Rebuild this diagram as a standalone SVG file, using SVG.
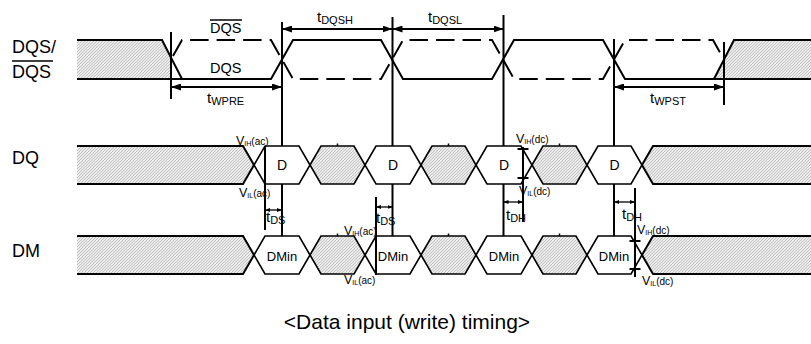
<svg xmlns="http://www.w3.org/2000/svg" width="811" height="344" viewBox="0 0 811 344">
<defs>
<pattern id="hatch" patternUnits="userSpaceOnUse" width="3" height="3">
<rect width="3" height="3" fill="#ececec"/>
<path d="M0,3 L3,0 M-1,1 L1,-1 M2,4 L4,2" stroke="#a2a2a2" stroke-width="0.6"/>
</pattern>
<marker id="ah" viewBox="0 0 10 7" refX="10" refY="3.5" markerWidth="10" markerHeight="7" markerUnits="userSpaceOnUse" orient="auto-start-reverse"><path d="M0,0 L10,3.5 L0,7 z" fill="#000"/></marker>
<marker id="as" viewBox="0 0 5 4" refX="5" refY="2" markerWidth="5" markerHeight="4" markerUnits="userSpaceOnUse" orient="auto-start-reverse"><path d="M0,0 L5,2 L0,4 z" fill="#000"/></marker>
</defs>
<style>
.w{fill:none;stroke:#000;stroke-width:2}
.dash{fill:none;stroke:#000;stroke-width:2;stroke-dasharray:18.5 8;stroke-dashoffset:22.5}
.h{fill:url(#hatch);stroke:none}
.hx{fill:#fff;stroke:#000;stroke-width:1.6}
.hs{fill:url(#hatch);stroke:#000;stroke-width:1.6}
.v{stroke:#000;stroke-width:2;fill:none}
.tk{stroke:#000;stroke-width:1.5;fill:none}
.ar{stroke:#000;stroke-width:2;fill:none;marker-start:url(#ah);marker-end:url(#ah)}
.sa{stroke:#000;stroke-width:1.3;fill:none;marker-start:url(#as);marker-end:url(#as)}
text{font-family:"Liberation Sans",Arial,Helvetica,sans-serif;fill:#000}
.lab{font-size:18px}
.wl{font-size:14.5px}
.d{font-size:14px;text-anchor:middle}
.dm{font-size:13px;text-anchor:middle}
.tm{font-size:15px}
.sb{font-size:11px}
.vv{font-size:12.5px}
.vs{font-size:7px}
.vp{font-size:10px}
.cap{font-size:21px;text-anchor:middle}
</style>

<g id="labels">
<text class="lab" x="12" y="53">DQS/</text>
<text class="lab" x="12" y="78">DQS</text>
<line x1="12" y1="61" x2="53" y2="61" stroke="#000" stroke-width="1.6"/>
<text class="lab" x="12" y="164">DQ</text>
<text class="lab" x="12" y="257">DM</text>
</g>

<g id="dqs">
<polygon class="h" points="77,40 162,40 171,57.5 171,79 77,79"/>
<polygon class="h" points="714,79 734,40 811,40 811,79"/>
<path class="w" d="M77,40 H162 L182,79"/>
<path class="w" d="M77,79 H271 L293,40 H381 L403,79 H492 L514,40 H603 L625,79 H811"/>
<path class="w" d="M714,79 L734,40 H811"/>
<path class="dash" d="M171,59.5 L182,40 H271 L293,79 H381 L403,40 H492 L514,79 H603 L625,40 H713 L724,59.5"/>
<text class="wl" x="210" y="33">DQS</text>
<line x1="210" y1="20" x2="242" y2="20" stroke="#000" stroke-width="1.5"/>
<text class="wl" x="210" y="73">DQS</text>
</g>

<g id="dq">
<polygon class="h" points="77,146 243,146 254,165 243,184 77,184"/>
<path class="w" d="M77,146 H243 L254,165 L243,184 H77"/>
<polygon class="hx" points="254,165 265,146 299,146 310,165 299,184 265,184"/>
<polygon class="hs" points="310,165 321,146 354,146 365,165 354,184 321,184"/>
<polygon class="hx" points="365,165 376,146 410,146 421,165 410,184 376,184"/>
<polygon class="hs" points="421,165 432,146 465,146 476,165 465,184 432,184"/>
<polygon class="hx" points="476,165 487,146 521,146 532,165 521,184 487,184"/>
<polygon class="hs" points="532,165 543,146 576,146 587,165 576,184 543,184"/>
<polygon class="hx" points="587,165 598,146 631,146 642,165 631,184 598,184"/>
<polygon class="h" points="811,146 653,146 642,165 653,184 811,184"/>
<path class="w" d="M811,146 H653 L642,165 L653,184 H811"/>
<path class="tk" d="M337.5,143.5 V146 M448.5,143.5 V146 M559.5,143.5 V146"/>
<text class="d" x="282" y="169.5">D</text>
<text class="d" x="393" y="169.5">D</text>
<text class="d" x="504" y="169.5">D</text>
<text class="d" x="614.5" y="169.5">D</text>
</g>

<g id="dm">
<polygon class="h" points="77,236 243,236 254,255 243,274 77,274"/>
<path class="w" d="M77,236 H243 L254,255 L243,274 H77"/>
<polygon class="hx" points="254,255 265,236 299,236 310,255 299,274 265,274"/>
<polygon class="hs" points="310,255 321,236 354,236 365,255 354,274 321,274"/>
<polygon class="hx" points="365,255 376,236 410,236 421,255 410,274 376,274"/>
<polygon class="hs" points="421,255 432,236 465,236 476,255 465,274 432,274"/>
<polygon class="hx" points="476,255 487,236 521,236 532,255 521,274 487,274"/>
<polygon class="hs" points="532,255 543,236 576,236 587,255 576,274 543,274"/>
<polygon class="hx" points="587,255 598,236 631,236 642,255 631,274 598,274"/>
<polygon class="h" points="811,236 653,236 642,255 653,274 811,274"/>
<path class="w" d="M811,236 H653 L642,255 L653,274 H811"/>
<path class="tk" d="M337.5,233.5 V236 M448.5,233.5 V236 M559.5,233.5 V236"/>
<text class="dm" x="282" y="260.5">DMin</text>
<text class="dm" x="393" y="260.5">DMin</text>
<text class="dm" x="504" y="260.5">DMin</text>
<text class="dm" x="614" y="260.5">DMin</text>
</g>

<g id="connectors">
<path class="v" d="M171,32 V99"/>
<path class="v" d="M282,22 V146 M282,184 V236"/>
<path class="v" d="M392.5,17 V146 M392.5,184 V236"/>
<path class="v" d="M503.5,15 V146 M503.5,184 V236"/>
<path class="v" d="M614,39 V146 M614,184 V236"/>
<path class="v" d="M724,42 V105"/>
<line class="ar" x1="282" y1="29" x2="392.5" y2="29"/>
<line class="ar" x1="392.5" y1="29" x2="503.5" y2="29"/>
<line class="ar" x1="171" y1="87" x2="282" y2="87"/>
<line class="ar" x1="614" y1="87" x2="724" y2="87"/>
<path class="v" d="M265,146 V230"/>
<path class="v" d="M376,197 V275"/>
<path class="v" d="M523,147 V222 M517.5,149 H528.5 M517.5,178 H528.5"/>
<path class="v" d="M635,188 V277 M629.5,241 H640.5 M629.5,269 H640.5"/>
<line class="sa" x1="265" y1="210" x2="282" y2="210"/>
<line class="sa" x1="376" y1="207" x2="392.5" y2="207"/>
<line class="sa" x1="503.5" y1="202" x2="523" y2="202"/>
<line class="sa" x1="614" y1="202" x2="635" y2="202"/>
</g>

<g id="timing-labels">
<text x="317" y="21.7"><tspan class="tm">t</tspan><tspan class="sb" dy="1.8">DQSH</tspan></text>
<text x="428" y="21.7"><tspan class="tm">t</tspan><tspan class="sb" dy="1.8">DQSL</tspan></text>
<text x="207" y="103"><tspan class="tm">t</tspan><tspan class="sb" dy="2">WPRE</tspan></text>
<text x="650" y="103"><tspan class="tm">t</tspan><tspan class="sb" dy="2">WPST</tspan></text>
<text x="266" y="222"><tspan class="tm">t</tspan><tspan class="sb" dy="1.8">DS</tspan></text>
<text x="376" y="223"><tspan class="tm">t</tspan><tspan class="sb" dy="1.8">DS</tspan></text>
<text x="506" y="220"><tspan class="tm">t</tspan><tspan class="sb" dy="1.8">DH</tspan></text>
<text x="622" y="219"><tspan class="tm">t</tspan><tspan class="sb" dy="1.8">DH</tspan></text>
<text x="236" y="145"><tspan class="vv">V</tspan><tspan class="vs" dy="1">IH</tspan><tspan class="vp" dy="-1">(ac)</tspan></text>
<text x="239" y="197"><tspan class="vv">V</tspan><tspan class="vs" dy="1">IL</tspan><tspan class="vp" dy="-1">(ac)</tspan></text>
<text x="344" y="235"><tspan class="vv">V</tspan><tspan class="vs" dy="1">IH</tspan><tspan class="vp" dy="-1">(ac)</tspan></text>
<text x="344" y="284"><tspan class="vv">V</tspan><tspan class="vs" dy="1">IL</tspan><tspan class="vp" dy="-1">(ac)</tspan></text>
<text x="516" y="143"><tspan class="vv">V</tspan><tspan class="vs" dy="1">IH</tspan><tspan class="vp" dy="-1">(dc)</tspan></text>
<text x="519" y="195"><tspan class="vv">V</tspan><tspan class="vs" dy="1">IL</tspan><tspan class="vp" dy="-1">(dc)</tspan></text>
<text x="637" y="234"><tspan class="vv">V</tspan><tspan class="vs" dy="1">IH</tspan><tspan class="vp" dy="-1">(dc)</tspan></text>
<text x="642" y="285"><tspan class="vv">V</tspan><tspan class="vs" dy="1">IL</tspan><tspan class="vp" dy="-1">(dc)</tspan></text>
</g>

<g id="caption">
<text class="cap" x="407" y="329">&lt;Data input (write) timing&gt;</text>
</g>
</svg>
